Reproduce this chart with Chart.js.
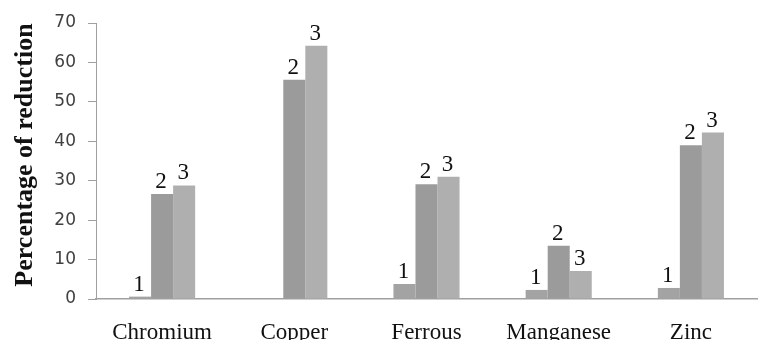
<!DOCTYPE html>
<html>
<head>
<meta charset="utf-8">
<script src="https://cdn.jsdelivr.net/npm/chart.js@4/dist/chart.umd.min.js"></script>
<style>
  html, body { margin: 0; padding: 0; background: #fff; }
  #wrap { width: 758px; height: 340px; position: relative; }
</style>
</head>
<body>
<div id="wrap"><canvas id="c"></canvas></div>
<script>
// Reduction (%) per metal for three treatments
const categories = ['Chromium', 'Copper', 'Ferrous', 'Manganese', 'Zinc'];
const series1 = [0.6, null, 3.8, 2.3, 2.8];
const series2 = [26.6, 55.6, 29.1, 13.5, 39.0];
const series3 = [28.8, 64.2, 31.0, 7.1, 42.2];
const seriesNames = ['1', '2', '3'];
const yTicks = [0, 10, 20, 30, 40, 50, 60, 70];
const yTitle = 'Percentage of reduction';

// Writes each series number above its bar
const barNumbers = {
  id: 'barNumbers',
  afterDatasetsDraw(chart) {
    const ctx = chart.ctx;
    ctx.save();
    ctx.font = '23px "Liberation Serif", "Times New Roman", serif';
    ctx.fillStyle = '#111';
    ctx.textAlign = 'center';
    ctx.textBaseline = 'alphabetic';
    chart.data.datasets.forEach((ds, i) => {
      const meta = chart.getDatasetMeta(i);
      meta.data.forEach((bar, j) => {
        const v = ds.data[j];
        if (v === null || v === undefined) return;
        ctx.fillText(ds.label, bar.x - 1, bar.y - 6);
      });
    });
    ctx.restore();
  }
};

// Vertical value-axis title, sitting a little above the plot's middle
const sideTitle = {
  id: 'sideTitle',
  afterDraw(chart) {
    const ctx = chart.ctx;
    const area = chart.chartArea;
    ctx.save();
    ctx.translate(25, (area.top + area.bottom) / 2 - 6);
    ctx.rotate(-Math.PI / 2);
    ctx.font = 'bold 26px "Liberation Serif", "Times New Roman", serif';
    ctx.fillStyle = '#111';
    ctx.textAlign = 'center';
    ctx.textBaseline = 'middle';
    ctx.fillText(yTitle, 0, 0);
    ctx.restore();
  }
};

new Chart(document.getElementById('c'), {
  type: 'bar',
  data: {
    labels: categories,
    datasets: [
      { label: seriesNames[0], data: series1, backgroundColor: '#a3a3a3' },
      { label: seriesNames[1], data: series2, backgroundColor: '#9b9b9b' },
      { label: seriesNames[2], data: series3, backgroundColor: '#afafaf' }
    ]
  },
  options: {
    responsive: true,
    maintainAspectRatio: false,
    animation: false,
    layout: { padding: { top: 23, right: 1, bottom: 0, left: 10 } },
    datasets: { bar: { categoryPercentage: 0.5, barPercentage: 1.0 } },
    plugins: {
      legend: { display: false },
      tooltip: { enabled: false }
    },
    scales: {
      x: {
        afterFit(axis) { axis.height = 41; },
        grid: { display: false },
        border: { color: '#a0a0a0', width: 1.5 },
        ticks: {
          color: '#111',
          font: { family: '"Liberation Serif", "Times New Roman", serif', size: 23 },
          padding: 12
        }
      },
      y: {
        min: 0,
        max: 70,
        afterBuildTicks(axis) { axis.ticks = yTicks.map(v => ({ value: v })); },
        afterFit(axis) { axis.width = 86; },
        grid: { drawOnChartArea: false, color: '#a0a0a0', tickLength: 8 },
        border: { color: '#a0a0a0' },
        ticks: {
          color: '#404040',
          font: { family: '"DejaVu Sans", sans-serif', size: 17 },
          padding: 12
        }
      }
    }
  },
  plugins: [barNumbers, sideTitle]
});
</script>
</body>
</html>
